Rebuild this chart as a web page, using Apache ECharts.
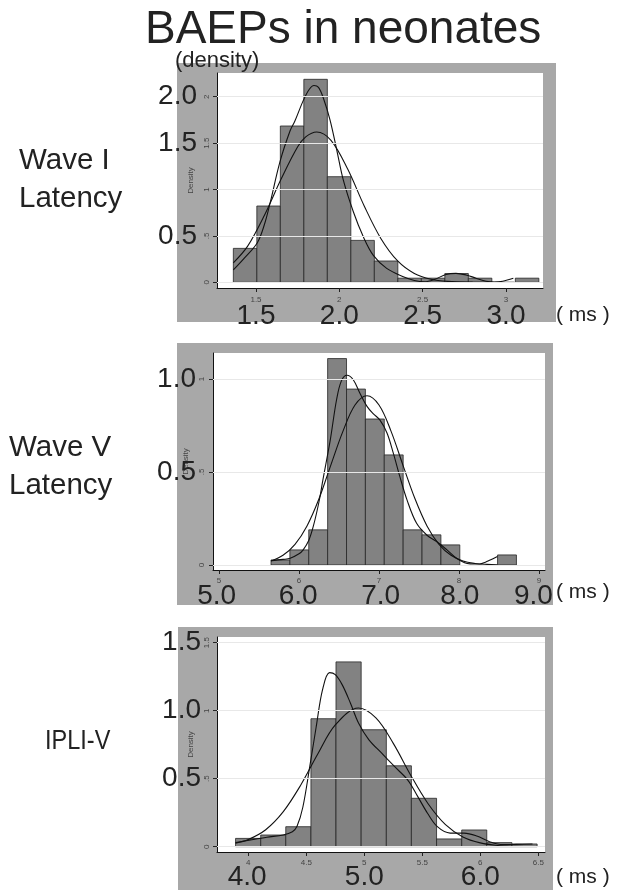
<!DOCTYPE html>
<html><head><meta charset="utf-8">
<script src="https://cdn.jsdelivr.net/npm/echarts@6/dist/echarts.min.js"></script>
<style>html,body{margin:0;padding:0;background:#fff}#c{width:634px;height:894px}</style>
</head><body><div id="c"></div>
<script>
// ---------- Panel 1: Wave I latency ----------
const p1Edges   = [1.364, 1.505, 1.646, 1.787, 1.928, 2.069, 2.210, 2.351, 2.492, 2.633, 2.774, 2.915, 3.056, 3.197];
const p1Heights = [0.366, 0.822, 1.684, 2.187, 1.138, 0.452, 0.230, 0.045, 0.045, 0.095, 0.045, 0, 0.045];
const p1Kernel  = [[1.364,0.133],[1.43,0.26],[1.508,0.427],[1.55,0.62],[1.584,0.85],[1.644,1.30],[1.704,1.63],[1.734,1.74],[1.784,1.96],[1.82,2.08],[1.848,2.12],[1.875,2.10],[1.905,1.98],[1.944,1.75],[1.984,1.43],[2.024,1.10],[2.084,0.76],[2.144,0.49],[2.204,0.29],[2.284,0.15],[2.384,0.06],[2.45,0.02],[2.51,0.005],[2.57,0.03],[2.64,0.085],[2.70,0.097],[2.76,0.08],[2.82,0.045],[2.88,0.012],[2.93,0.003],[2.98,0.012],[3.044,0.043]];
const p1Normal  = [[1.364,0.21],[1.45,0.39],[1.55,0.72],[1.65,1.11],[1.75,1.46],[1.80,1.57],[1.864,1.62],[1.95,1.53],[2.05,1.22],[2.15,0.82],[2.25,0.47],[2.35,0.23],[2.45,0.095],[2.55,0.033],[2.65,0.010],[2.8,0.002],[3.05,0.0]];
const p1SmallX = [1.5, 2, 2.5, 3];
const p1SmallY = [0, 0.5, 1, 1.5, 2];
const p1BigXAt = [1.5, 2, 2.5, 3];
const p1BigXText = ['1.5', '2.0', '2.5', '3.0'];
const p1BigY   = [0.5, 1.5, 2];

// ---------- Panel 2: Wave V latency ----------
const p2Edges   = [5.650, 5.886, 6.122, 6.358, 6.594, 6.830, 7.066, 7.302, 7.538, 7.774, 8.010, 8.246, 8.482, 8.718];
const p2Heights = [0.027, 0.081, 0.189, 1.11, 0.946, 0.785, 0.592, 0.189, 0.162, 0.108, 0, 0, 0.054];
const p2Kernel  = [[5.65,0.023],[5.80,0.03],[5.89,0.036],[6.0,0.06],[6.05,0.08],[6.12,0.13],[6.18,0.21],[6.25,0.34],[6.30,0.46],[6.39,0.67],[6.47,0.89],[6.53,0.99],[6.60,1.02],[6.68,0.995],[6.76,0.925],[6.85,0.853],[6.93,0.813],[7.01,0.78],[7.10,0.71],[7.18,0.60],[7.26,0.476],[7.35,0.35],[7.47,0.224],[7.60,0.16],[7.72,0.126],[7.85,0.081],[7.97,0.036],[8.07,0.012],[8.14,0.006],[8.26,0.005],[8.33,0.015],[8.39,0.027],[8.48,0.045]];
const p2Normal  = [[5.65,0.021],[5.80,0.052],[5.95,0.111],[6.10,0.21],[6.25,0.356],[6.40,0.54],[6.55,0.72],[6.70,0.86],[6.85,0.91],[7.00,0.86],[7.15,0.72],[7.30,0.536],[7.45,0.356],[7.60,0.21],[7.75,0.111],[7.90,0.052],[8.05,0.021],[8.20,0.008],[8.35,0.003],[8.48,0.001]];
const p2SmallX = [5, 6, 7, 8, 9];
const p2SmallY = [0, 0.5, 1];
const p2BigXAt = [4.97, 5.99, 7.02, 8.01, 8.93];
const p2BigXText = ['5.0', '6.0', '7.0', '8.0', '9.0'];
const p2BigY   = [0.5, 1];

// ---------- Panel 3: IPLI-V ----------
const p3Edges   = [3.890, 4.107, 4.323, 4.540, 4.756, 4.973, 5.190, 5.406, 5.623, 5.840, 6.056, 6.273, 6.490];
const p3Heights = [0.061, 0.086, 0.147, 0.941, 1.359, 0.860, 0.595, 0.356, 0.057, 0.123, 0.030, 0.020];
const p3Kernel  = [[3.89,0.03],[4.02,0.05],[4.16,0.07],[4.30,0.086],[4.38,0.11],[4.42,0.15],[4.47,0.29],[4.53,0.59],[4.585,0.88],[4.64,1.155],[4.70,1.28],[4.75,1.265],[4.81,1.19],[4.88,1.057],[4.95,0.91],[5.04,0.786],[5.15,0.688],[5.26,0.59],[5.375,0.49],[5.46,0.37],[5.545,0.246],[5.63,0.147],[5.74,0.10],[5.86,0.10],[5.97,0.079],[6.08,0.037],[6.195,0.015],[6.31,0.017],[6.45,0.02]];
const p3Normal  = [[3.89,0.026],[4.0,0.053],[4.15,0.125],[4.30,0.256],[4.45,0.45],[4.60,0.683],[4.75,0.895],[4.95,1.02],[5.10,0.947],[5.25,0.76],[5.40,0.526],[5.55,0.316],[5.70,0.162],[5.85,0.072],[6.00,0.028],[6.15,0.009],[6.30,0.003],[6.49,0.001]];
const p3SmallX = [4, 4.5, 5, 5.5, 6, 6.5];
const p3SmallY = [0, 0.5, 1, 1.5];
const p3BigXAt = [3.99, 5.0, 6.0];
const p3BigXText = ['4.0', '5.0', '6.0'];
const p3BigY   = [0.5, 1, 1.5];

const FONT = '"Liberation Sans", Arial, Helvetica, sans-serif';

const panels = [
  {edges:p1Edges, heights:p1Heights, kernel:p1Kernel, normal:p1Normal, sx:p1SmallX, bxAt:p1BigXAt, bxText:p1BigXText, sy:p1SmallY, by:p1BigY,
   grid:{left:217, top:73, width:326, height:215}, frame:[177,63,379,259], xr:[1.266,3.222], yr:[-0.061,2.255],
   bxm:14, bym:20, sym:6, sxm:8, gap:18},
  {edges:p2Edges, heights:p2Heights, kernel:p2Kernel, normal:p2Normal, sx:p2SmallX, bxAt:p2BigXAt, bxText:p2BigXText, sy:p2SmallY, by:p2BigY,
   grid:{left:213, top:353, width:332, height:217}, frame:[177,343,376,262], xr:[4.925,9.075], yr:[-0.027,1.14],
   bxm:12, bym:17, sym:7.5, sxm:7, gap:17.5},
  {edges:p3Edges, heights:p3Heights, kernel:p3Kernel, normal:p3Normal, sx:p3SmallX, bxAt:p3BigXAt, bxText:p3BigXText, sy:p3SmallY, by:p3BigY,
   grid:{left:217, top:637, width:328, height:215}, frame:[178,627,375,263], xr:[3.730,6.558], yr:[-0.039,1.542],
   bxm:11, bym:16, sym:6, sxm:7, gap:16}
];

function histItem(params, api) {
  const x0 = api.value(0), x1 = api.value(1), h = api.value(2);
  const a = api.coord([x0, h]);
  const b = api.coord([x1, 0]);
  return {type:'rect', shape:{x:a[0], y:a[1], width:b[0]-a[0], height:b[1]-a[1]},
          style:{fill:'#828282', stroke:'#262626', lineWidth:0.8}};
}
const stataFmt = v => String(v).replace(/^0\./, '.');

const grid = [], xAxis = [], yAxis = [], series = [];
const graphic = [];
panels.forEach((p, i) => {
  grid.push(Object.assign({show:true, backgroundColor:'#ffffff', borderWidth:0}, p.grid));
  graphic.push({type:'rect', z:-10, silent:true, shape:{x:p.frame[0], y:p.frame[1], width:p.frame[2], height:p.frame[3]}, style:{fill:'#a8a8a8'}});
  xAxis.push({gridIndex:i, type:'value', min:p.xr[0], max:p.xr[1], position:'bottom',
    axisLine:{show:true, onZero:false, lineStyle:{color:'#111', width:1}},
    axisTick:{show:true, customValues:p.sx, length:4, lineStyle:{color:'#222'}},
    axisLabel:{customValues:p.sx, formatter:stataFmt, fontSize:8, color:'#444', margin:p.sxm, fontFamily:FONT},
    splitLine:{show:false}});
  xAxis.push({gridIndex:i, type:'value', min:p.xr[0], max:p.xr[1], position:'bottom',
    axisLine:{show:false, onZero:false}, axisTick:{show:false},
    axisLabel:{customValues:p.bxAt, formatter:v => p.bxText[p.bxAt.indexOf(v)], fontSize:28, color:'#222', margin:p.bxm, fontFamily:FONT},
    splitLine:{show:false}});
  yAxis.push({gridIndex:i, type:'value', min:p.yr[0], max:p.yr[1], position:'left',
    name:'Density', nameLocation:'middle', nameGap:p.gap, nameRotate:90,
    nameTextStyle:{fontSize:8, color:'#444', fontFamily:FONT},
    axisLine:{show:true, onZero:false, lineStyle:{color:'#111', width:1}},
    axisTick:{show:true, customValues:p.sy, length:4, lineStyle:{color:'#222'}},
    axisLabel:{customValues:p.sy, formatter:stataFmt, fontSize:8, color:'#444', margin:p.sym, rotate:90, fontFamily:FONT},
    splitLine:{show:false}});
  yAxis.push({gridIndex:i, type:'value', min:p.yr[0], max:p.yr[1], position:'left',
    axisLine:{show:false, onZero:false}, axisTick:{show:false},
    axisLabel:{customValues:p.by, formatter:v=>v.toFixed(1), fontSize:28, color:'#222', margin:p.bym, fontFamily:FONT},
    splitLine:{show:false}});
  const xi = i*2, yi = i*2;
  series.push({type:'line', xAxisIndex:xi, yAxisIndex:yi, data:[], z:1, silent:true,
    markLine:{silent:true, symbol:'none', animation:false, label:{show:false},
      lineStyle:{color:'#e8e8e8', width:1, type:'solid'},
      data:p.sy.map(v => ({yAxis:v}))}});
  const hist = [];
  p.heights.forEach((h, k) => { if (h > 0) hist.push([p.edges[k], p.edges[k+1], h]); });
  series.push({type:'custom', xAxisIndex:xi, yAxisIndex:yi, data:hist, renderItem:histItem,
    encode:{x:[0,1], y:2}, z:2, silent:true});
  [p.kernel, p.normal].forEach(d => series.push({type:'line', xAxisIndex:xi, yAxisIndex:yi, data:d,
    smooth:0.35, showSymbol:false, symbol:'none', z:3, silent:true,
    lineStyle:{color:'#111', width:1.1}}));
});

// condensed row label, as in the original
graphic.push({type:'text', x:45, y:741, scaleX:0.84, z:10, silent:true,
  style:{text:'IPLI-V', fill:'#222', font:'28px ' + FONT, textVerticalAlign:'middle', verticalAlign:'middle'}});

const T = (text, left, top, size, extra) => Object.assign({text, left, top, padding:0,
  textStyle:Object.assign({fontSize:size, fontWeight:'normal', color:'#222', fontFamily:FONT}, extra||{})});

const option = {
  animation:false,
  backgroundColor:'#ffffff',
  title:[
    T('BAEPs in neonates', 145, 7, 46),
    T('(density)', 175, 50, 22),
    T('Wave I\nLatency', 19, 142, 29.5, {lineHeight:38}),
    T('Wave V\nLatency', 9, 429, 29.5, {lineHeight:38}),
    T('( ms )', 556, 305, 21),
    T('( ms )', 556, 582, 21),
    T('( ms )', 556, 867, 21)
  ],
  graphic:graphic,
  grid:grid, xAxis:xAxis, yAxis:yAxis, series:series
};
const chart = echarts.init(document.getElementById('c'));
chart.setOption(option);
</script></body></html>
